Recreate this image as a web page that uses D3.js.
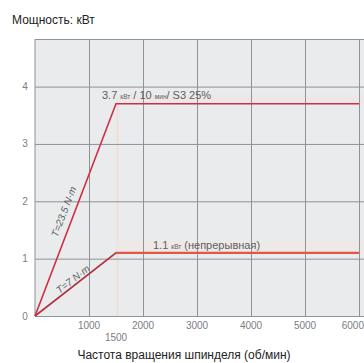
<!DOCTYPE html>
<html>
<head>
<meta charset="utf-8">
<script src="https://cdn.jsdelivr.net/npm/d3@7"></script>
<style>
  html, body { margin: 0; padding: 0; background: #fff; }
  svg { display: block; }
  text { font-family: "Liberation Sans Narrow", "Arial Narrow", "Liberation Sans", sans-serif; }
</style>
</head>
<body>
<svg id="chart" width="364" height="363"></svg>
<script>
// Spindle output vs. speed
const speedTicks = [1000, 2000, 3000, 4000, 5000, 6000];
const powerTicks = [0, 1, 2, 3, 4];
const baseSpeed = 1500;
const s3Speed = [0, 1500, 6000];
const s3Power = [0, 3.7, 3.7];
const contSpeed = [0, 1500, 6000];
const contPower = [0, 1.1, 1.1];

const svg = d3.select("#chart");
const plotL = 35, plotR = 359, plotT = 39, plotB = 316;

const x = d3.scaleLinear().domain([0, 6000]).range([plotL, plotR]);
const y = d3.scaleLinear().domain([0, 4.83]).range([plotB, plotT]);

// plot background
svg.append("rect")
  .attr("x", plotL).attr("y", plotT)
  .attr("width", 364 - plotL).attr("height", plotB - plotT)
  .attr("fill", "#e9ebed");

// faint marker at base speed
svg.append("line")
  .attr("x1", x(baseSpeed) + 1.5).attr("x2", x(baseSpeed) + 1.5)
  .attr("y1", y(3.7)).attr("y2", plotB)
  .attr("stroke", "#f0dccd").attr("stroke-width", 2.5).attr("opacity", 0.6);

// faint highlight bands behind the curves
svg.append("rect").attr("x", x(baseSpeed)).attr("y", y(3.7) - 9)
  .attr("width", 364 - x(baseSpeed)).attr("height", 9)
  .attr("fill", "#f1e4e3").attr("opacity", 0.6);
svg.append("rect").attr("x", x(baseSpeed)).attr("y", y(1.1) - 12)
  .attr("width", 364 - x(baseSpeed)).attr("height", 11)
  .attr("fill", "#f0e7e1").attr("opacity", 0.6);

// grid
const gx = svg.append("g").attr("transform", `translate(0,${plotB})`)
  .call(d3.axisBottom(x).tickValues(speedTicks).tickSize(-(plotB - plotT)).tickFormat(""));
gx.select(".domain").remove();
gx.selectAll("line").attr("stroke", "#8f9296").attr("stroke-width", 1);

const gy = svg.append("g").attr("transform", `translate(${plotL},0)`)
  .call(d3.axisLeft(y).tickValues(powerTicks.concat([4.83])).tickSize(-(364 - plotL)).tickFormat(""));
gy.select(".domain").remove();
gy.selectAll("line").attr("stroke", "#8f9296").attr("stroke-width", 1);

// left border
svg.append("line").attr("x1", plotL).attr("x2", plotL).attr("y1", plotT).attr("y2", plotB)
  .attr("stroke", "#8f9296");

const line = d3.line().x(d => x(d[0])).y(d => y(d[1]));
const s3 = s3Speed.map((s, i) => [s, s3Power[i]]);
const cont = contSpeed.map((s, i) => [s, contPower[i]]);

svg.append("path").datum(cont).attr("d", line)
  .attr("fill", "none").attr("stroke", "#b3303e").attr("stroke-width", 1.6);
svg.append("path").datum(cont.slice(1)).attr("d", line)
  .attr("fill", "none").attr("stroke", "#e1574a").attr("stroke-width", 2.4);
svg.append("path").datum(s3).attr("d", line)
  .attr("fill", "none").attr("stroke", "#cf2f45").attr("stroke-width", 1.6);

// tick labels
const tickColor = "#7b7e82";
svg.append("g").selectAll("text").data(speedTicks).join("text")
  .attr("x", d => d === 6000 ? 364 : x(d)).attr("y", 329)
  .attr("text-anchor", d => d === 6000 ? "end" : "middle")
  .attr("font-size", 10).attr("fill", tickColor)
  .text(d => d);
svg.append("text").attr("x", x(baseSpeed)).attr("y", 341)
  .attr("text-anchor", "middle").attr("font-size", 10).attr("fill", tickColor)
  .text(baseSpeed);
svg.append("g").selectAll("text").data(powerTicks).join("text")
  .attr("x", 25).attr("y", d => y(d) + 3.5)
  .attr("text-anchor", "middle").attr("font-size", 10).attr("fill", tickColor)
  .text(d => d);

// titles
svg.append("text").attr("x", 12).attr("y", 24)
  .attr("font-size", 12).attr("fill", "#222").text("Мощность: кВт");
svg.append("text").attr("x", 184).attr("y", 359)
  .attr("text-anchor", "middle").attr("font-size", 12).attr("fill", "#222")
  .text("Частота вращения шпинделя (об/мин)");

// curve annotations
const labelColor = "#5d5f63";
const t1 = svg.append("text").attr("x", x(baseSpeed) - 14).attr("y", y(3.7) - 5)
  .attr("font-size", 11).attr("fill", labelColor);
t1.append("tspan").text("3.7 ");
t1.append("tspan").attr("font-size", 6.5).text("кВт");
t1.append("tspan").text(" / 10 ");
t1.append("tspan").attr("font-size", 6.5).text("мин");
t1.append("tspan").text("/ S3 25%");

const t2 = svg.append("text").attr("x", 153).attr("y", y(1.1) - 4)
  .attr("font-size", 11).attr("fill", labelColor);
t2.append("tspan").text("1.1 ");
t2.append("tspan").attr("font-size", 6.5).text("кВт");
t2.append("tspan").attr("dx", 3).text("(непрерывная)");

function slopeAngle(p0, p1) {
  return Math.atan2(y(p1[1]) - y(p0[1]), x(p1[0]) - x(p0[0])) * 180 / Math.PI;
}
const a1 = slopeAngle(s3[0], s3[1]);
const a2 = slopeAngle(cont[0], cont[1]);

svg.append("text")
  .attr("transform", `translate(67,213) rotate(${a1})`)
  .attr("text-anchor", "middle").attr("font-size", 10).attr("font-style", "italic")
  .attr("fill", labelColor).text("T=23.5 N·m");
svg.append("text")
  .attr("transform", `translate(75,282) rotate(${a2})`)
  .attr("text-anchor", "middle").attr("font-size", 10).attr("font-style", "italic")
  .attr("fill", labelColor).text("T=7 N·m");
</script>
</body>
</html>
